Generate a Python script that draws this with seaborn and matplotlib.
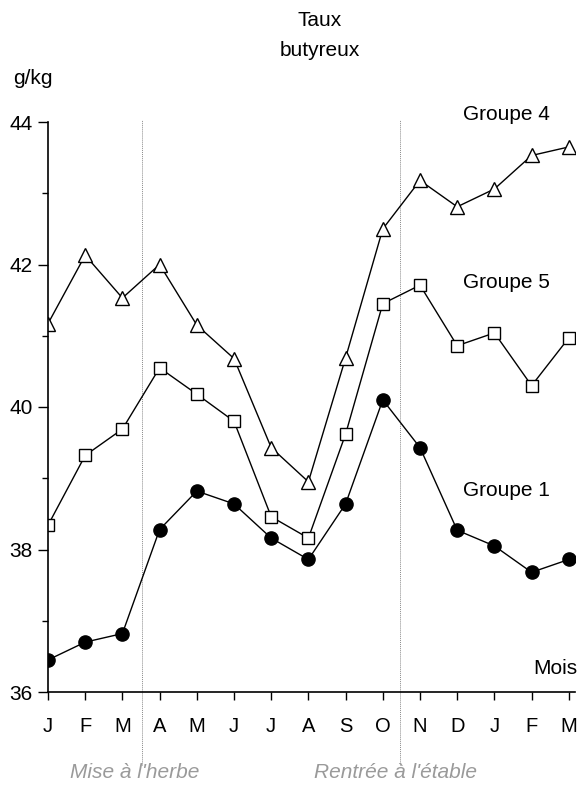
import matplotlib
matplotlib.use("Agg")

import matplotlib.pyplot as plt
import pandas as pd
import seaborn as sns
from matplotlib.ticker import MultipleLocator

# --- data ---
months = ["J", "F", "M", "A", "M", "J", "J", "A", "S", "O", "N", "D", "J", "F", "M"]
groupe_4 = [41.17, 42.13, 41.53, 42.00, 41.15, 40.68, 39.43, 38.95, 40.69,
            42.50, 43.18, 42.81, 43.06, 43.53, 43.65]
groupe_5 = [38.34, 39.32, 39.69, 40.55, 40.18, 39.80, 38.46, 38.16, 39.62,
            41.45, 41.71, 40.86, 41.04, 40.30, 40.97]
groupe_1 = [36.45, 36.70, 36.82, 38.28, 38.82, 38.64, 38.16, 37.86, 38.64,
            40.10, 39.43, 38.27, 38.05, 37.68, 37.86]
events = ["Mise à l'herbe", "Rentrée à l'étable"]
event_pos = [2.54, 9.45]  # between M/A and O/N

sns.set_style("ticks", {"text.color": "black", "axes.labelcolor": "black",
                        "xtick.color": "black", "ytick.color": "black",
                        "axes.edgecolor": "black"})
plt.rcParams["font.family"] = ["Liberation Sans", "DejaVu Sans"]

W, H = 583, 790
fig = plt.figure(figsize=(W / 100, H / 100), dpi=100)


def fx(x):
    return x / W


def fy(y):
    return 1 - y / H


ax = fig.add_axes([fx(48), fy(692), fx(575) - fx(48), fy(122) - fy(692)])

idx = list(range(len(months)))
df = pd.DataFrame({"mois": idx, "g4": groupe_4, "g5": groupe_5, "g1": groupe_1})

common = dict(color="black", linewidth=1.0, markeredgecolor="black",
              markeredgewidth=1.0, ax=ax, legend=False)
sns.lineplot(data=df, x="mois", y="g4", marker="^", markersize=9.5,
             markerfacecolor="white", **common)
sns.lineplot(data=df, x="mois", y="g5", marker="s", markersize=9,
             markerfacecolor="white", **common)
sns.lineplot(data=df, x="mois", y="g1", marker="o", markersize=9.5,
             markerfacecolor="black", **common)

# dotted lines for the two events (run below the axis, down to the notes)
for p in event_pos:
    ax.vlines(p, 34.98, 44.03, colors="#8a8a8a", linestyles=(0, (1, 1)),
              linewidth=0.7, clip_on=False, zorder=0)

ax.set_xlim(0, (575 - 48) / 37.2)
ax.set_ylim(36, 44)
ax.set_xticks(idx)
ax.set_xticklabels(months, fontsize=14.5)
ax.yaxis.set_major_locator(MultipleLocator(2))
ax.yaxis.set_minor_locator(MultipleLocator(1))
ax.tick_params(axis="y", which="major", length=7, width=1, labelsize=15, pad=4)
ax.tick_params(axis="y", which="minor", length=4, width=1)
ax.tick_params(axis="x", length=6, width=1, pad=12)
ax.set_xlabel("")
ax.set_ylabel("")
sns.despine(ax=ax)
for s in ("left", "bottom"):
    ax.spines[s].set_linewidth(1.2)

# texts
fig.text(fx(320), fy(21), "Taux", ha="center", va="center", fontsize=15)
fig.text(fx(320), fy(51), "butyreux", ha="center", va="center", fontsize=15)
fig.text(fx(13), fy(79), "g/kg", ha="left", va="center", fontsize=15)
fig.text(fx(463), fy(115), "Groupe 4", ha="left", va="center", fontsize=15)
fig.text(fx(463), fy(283), "Groupe 5", ha="left", va="center", fontsize=15)
fig.text(fx(463), fy(490), "Groupe 1", ha="left", va="center", fontsize=15)
fig.text(fx(577), fy(669), "Mois", ha="right", va="center", fontsize=15)
fig.text(fx(135), fy(773), events[0], ha="center", va="center", fontsize=15,
         style="italic", color="#9a9a9a")
fig.text(fx(395), fy(773), events[1], ha="center", va="center", fontsize=15,
         style="italic", color="#9a9a9a")

fig.savefig("out.png", dpi=100)
